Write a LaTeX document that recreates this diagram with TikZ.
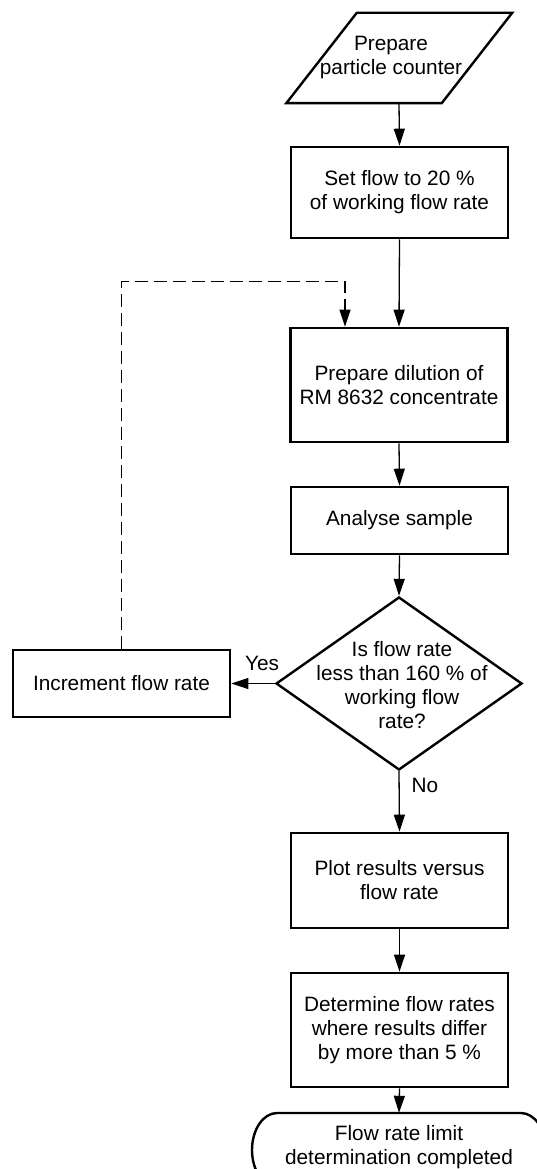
\documentclass[tikz,border=0pt]{standalone}
\usepackage{fontspec}
\setmainfont{Liberation Sans}
\usetikzlibrary{shapes.geometric,arrows.meta}
\begin{document}
\begin{tikzpicture}[x=1pt,y=-1pt,
  font=\fontsize{20.8pt}{24pt}\selectfont,
  stepbox/.style={draw, line width=2.6pt, minimum width=217pt, align=center, inner sep=0pt},
  plain/.style={align=center, inner sep=0pt},
  outline/.style={line width=2.4pt, line join=miter},
  flow/.style={line width=1.3pt, -{Triangle[length=17pt,width=11pt]}},
  backflow/.style={flow, dash pattern=on 13pt off 6pt}]
\useasboundingbox (0,0) rectangle (537,1169);
\clip (0,0) rectangle (537,1169);

% input: slanted box
\node[plain, minimum width=155pt, minimum height=90pt] (prep) at (391,58) {Prepare\\particle counter};
\draw[outline] ([xshift=43.5pt]prep.north west) -- ([xshift=43.5pt]prep.north east)
  -- ([xshift=-27pt]prep.south east) -- ([xshift=-27pt]prep.south west) -- cycle;

% process steps
\node[stepbox, minimum height=91pt]  (setflow) at (399.5,192.5) {Set flow to 20 \%\\of working flow rate};
\node[stepbox, minimum height=114pt] (dil)     at (399,385)     {Prepare dilution of\\RM 8632 concentrate};
\node[stepbox, minimum height=67pt]  (ana)     at (399.5,520.5) {Analyse sample};
\node[draw, diamond, outline, minimum width=246pt, minimum height=173pt, inner sep=0pt,
  label={[plain, xshift=3pt, yshift=-2pt]center:{Is flow rate\\less than 160 \% of\\working flow\\rate?}}]
  (dec) at (399,683.5) {};
\node[stepbox, minimum height=67pt]  (inc)     at (121.5,683.5) {Increment flow rate};
\node[stepbox, minimum height=95pt]  (plot)    at (399.5,880.5) {Plot results versus\\flow rate};
\node[stepbox, minimum height=114pt] (det)     at (399.5,1030)  {Determine flow rates\\where results differ\\by more than 5 \%};

% terminal
\node[plain, minimum width=244pt, minimum height=68pt] (done) at (399,1147)
  {Flow rate limit\\determination completed};
\draw[outline] (277,1113) -- (521,1113)
  .. controls (534.8,1113) and (546,1129.6) .. (546,1150)
  .. controls (546,1170.4) and (534.8,1187) .. (521,1187)
  -- (277,1187)
  .. controls (263.2,1187) and (252,1170.4) .. (252,1150)
  .. controls (252,1129.6) and (263.2,1113) .. (277,1113) -- cycle;

% connectors
\draw[flow] ([xshift=8pt]prep.south) -- (setflow.north);
\draw[flow] (setflow.south) -- (dil.north);
\draw[flow] (dil.south) -- (ana.north);
\draw[flow] (ana.south) -- (dec.north);
\draw[flow] (dec.west) -- (inc.east);
\draw[flow] (dec.south) -- (plot.north);
\draw[flow] (plot.south) -- (det.north);
\draw[flow] (det.south) -- (done.north);
\draw[backflow] (inc.north) -- ++(0,-367) -| ([xshift=-54pt]dil.north);

% branch labels
\node[plain] (yes) at (262,663) {Yes};
\node[plain] (no)  at (425,785) {No};
\end{tikzpicture}
\end{document}
